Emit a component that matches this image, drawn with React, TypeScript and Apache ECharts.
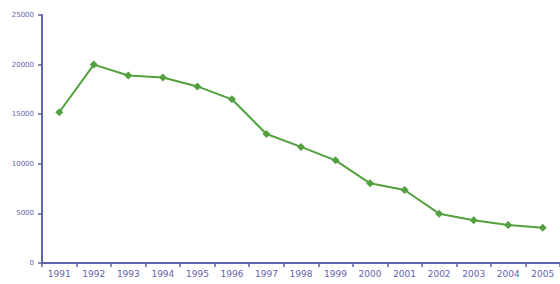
import React, { useEffect, useRef } from "react";
import * as echarts from "echarts";

const years = ["1991","1992","1993","1994","1995","1996","1997","1998","1999","2000","2001","2002","2003","2004","2005"];
const values = [15200, 20000, 18900, 18700, 17800, 16500, 13000, 11700, 10350, 8030, 7360, 4970, 4300, 3830, 3560];

const AXIS = "#5f63ab";
const LINE = "#52a03e";

export default function App() {
  const ref = useRef<HTMLDivElement>(null);
  useEffect(() => {
    const chart = echarts.init(ref.current!, null, { renderer: "svg" });
    chart.setOption({
      animation: false,
      backgroundColor: "#ffffff",
      grid: { left: 42, right: -1, top: 15, bottom: 21, containLabel: false },
      xAxis: {
        type: "category",
        data: years,
        boundaryGap: true,
        axisLine: { lineStyle: { color: AXIS, width: 2 } },
        axisTick: { show: true, length: 4, lineStyle: { color: AXIS, width: 1.5 } },
        axisLabel: { color: AXIS, fontSize: 9, fontFamily: "DejaVu Sans", margin: 6, interval: 0 },
        splitLine: { show: false },
      },
      yAxis: {
        type: "value",
        min: 0,
        max: 25000,
        interval: 5000,
        axisLine: { show: true, lineStyle: { color: AXIS, width: 2 } },
        axisTick: { show: true, length: 4, lineStyle: { color: AXIS, width: 1.5 } },
        axisLabel: { color: AXIS, fontSize: 7, fontFamily: "DejaVu Sans", margin: 8, formatter: (v: number) => String(v) },
        splitLine: { show: false },
      },
      series: [
        {
          type: "line",
          data: values,
          symbol: "diamond",
          symbolSize: 8,
          lineStyle: { color: LINE, width: 2 },
          itemStyle: { color: LINE },
        },
      ],
    });
    return () => chart.dispose();
  }, []);
  return <div ref={ref} style={{ position: "fixed", left: 0, top: 0, width: 560, height: 284 }} />;
}
